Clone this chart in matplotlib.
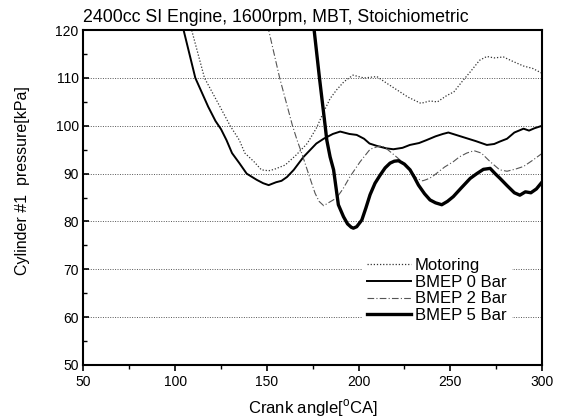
import matplotlib
matplotlib.use("Agg")
import matplotlib.pyplot as plt

plt.rcParams['font.family'] = ['Liberation Sans', 'DejaVu Sans']
plt.rcParams['mathtext.fontset'] = 'custom'
plt.rcParams['mathtext.rm'] = 'Liberation Sans'

# Crank angle [deg CA] / pressure [kPa]
motoring_x = [107, 109, 116, 125, 130, 135, 138, 143, 147, 151, 154, 160, 166, 172, 177,
              181, 184.5, 188, 192, 197, 203, 210, 215, 221, 227, 234, 239, 243, 248,
              252, 257, 261, 266, 270, 274, 279, 284, 290, 295, 300]
motoring_y = [121, 120, 110, 103.6, 100, 97, 94.3, 92.5, 90.8, 90.6, 90.9, 91.8, 93.9, 96.3, 99.5,
              102.9, 105.7, 107.5, 109.2, 110.6, 110.0, 110.3, 109.0, 107.5, 106.0, 104.7, 105.2, 105.0, 106.3,
              107.1, 109.5, 111.3, 113.7, 114.5, 114.2, 114.4, 113.5, 112.5, 112.0, 111.0]

bmep0_x = [104, 104.6, 111, 118, 122, 125, 128, 131, 135, 139, 144.5, 148, 151, 155, 158,
           161, 164.7, 170, 177, 181, 186, 190, 195, 199, 203, 206, 210, 215, 219, 224,
           228, 233, 237, 242, 246, 249, 254, 259, 264, 270, 274, 277, 281, 285, 290,
           293, 296, 300]
bmep0_y = [121, 120, 110, 104, 101, 99.3, 97, 94.3, 92.2, 90, 88.7, 88.0, 87.6, 88.2, 88.5,
           89.3, 90.8, 93.5, 96.3, 97.3, 98.3, 98.8, 98.3, 98.1, 97.3, 96.3, 95.8, 95.3, 95.1, 95.4,
           96.0, 96.4, 97.0, 97.8, 98.3, 98.6, 98.0, 97.4, 96.8, 96.0, 96.2, 96.7, 97.3, 98.6, 99.4,
           99.0, 99.5, 100.0]

bmep2_x = [150.5, 151, 157, 164, 166.5, 169, 172.7, 176.3, 178.5, 181, 184, 188, 191.5, 195.4,
           200.9, 206.3, 210, 212.7, 215, 218.2, 221, 224.5, 228, 231.8, 235, 237.3, 240, 242.7,
           247, 251.7, 255, 259, 263, 267, 271.8, 277, 281, 286, 290, 295, 300]
bmep2_y = [121, 120, 110, 100, 97, 94.3, 90, 85.9, 84.2, 83.3, 84.0, 84.9, 86.8, 89.4,
           92.5, 95.1, 95.6, 95.8, 95.3, 94.3, 93.4, 92.2, 90.6, 89.0, 88.5, 88.8, 89.3, 90.1,
           91.4, 92.5, 93.5, 94.3, 94.8, 94.3, 92.5, 90.8, 90.5, 91.0, 91.5, 92.8, 94.2]

bmep5_x = [175.5, 175.8, 178.7, 181.8, 182.7, 184.5, 186.4, 189, 191.8, 194, 196, 197.2, 199,
           201.8, 204, 206.3, 209, 211.8, 214.5, 217.2, 219.5, 221.8, 225, 228.1, 230.5, 232.7,
           236, 239, 242, 245.4, 248.5, 251.7, 256, 260.9, 264.5, 268.1, 271.8, 274.5, 277.2,
           281, 285, 288, 291, 294, 297, 300]
bmep5_y = [121, 120, 110, 100, 97, 93.5, 90.8, 83.5, 81.0, 79.5, 78.8, 78.6, 78.9,
           80.3, 82.8, 85.6, 88.0, 89.7, 91.2, 92.2, 92.6, 92.7, 92.0, 90.8, 89.2, 87.6,
           85.8, 84.5, 83.9, 83.5, 84.2, 85.2, 87.0, 89.0, 90.0, 90.9, 91.1, 90.0, 89.0,
           87.5, 86.0, 85.5, 86.2, 86.0, 86.8, 88.2]

title = "2400cc SI Engine, 1600rpm, MBT, Stoichiometric"

fig = plt.figure(figsize=(5.68, 4.19), dpi=100)
ax = fig.add_axes([0.147, 0.129, 0.807, 0.799])

ax.plot(motoring_x, motoring_y, color='#333333', lw=0.9, ls=(0, (1, 1.5)), label='Motoring')
ax.plot(bmep0_x, bmep0_y, color='black', lw=1.4, ls='-', label='BMEP 0 Bar')
ax.plot(bmep2_x, bmep2_y, color='#555555', lw=0.8, ls=(0, (6, 2, 1, 2)), label='BMEP 2 Bar')
ax.plot(bmep5_x, bmep5_y, color='black', lw=2.4, ls='-', label='BMEP 5 Bar')

ax.set_xlim(50, 300)
ax.set_ylim(50, 120)
ax.set_xticks([50, 100, 150, 200, 250, 300])
ax.set_xticks([75, 125, 175, 225, 275], minor=True)
ax.set_yticks([50, 60, 70, 80, 90, 100, 110, 120])
ax.set_yticks([55, 65, 75, 85, 95, 105, 115], minor=True)
ax.tick_params(axis='x', which='major', direction='out', length=4, width=1.2, labelsize=10)
ax.tick_params(axis='x', which='minor', direction='out', length=3, width=1)
ax.tick_params(axis='y', which='major', direction='in', length=4, width=1.2, labelsize=10)
ax.tick_params(axis='y', which='minor', direction='in', length=3, width=1)

for v in [60, 70, 80, 90, 100, 110]:
    ax.axhline(v, color='#555555', lw=0.7, ls=(0, (1, 1.5)), zorder=0)

for s in ax.spines.values():
    s.set_linewidth(1.5)

ax.set_title(title, fontsize=12.8, loc='left', x=-0.002, pad=6)
ax.set_xlabel(r'Crank angle[$^\mathregular{o}$CA]', fontsize=12)
ax.xaxis.set_label_coords(0.5, -0.097)
ax.set_ylabel('Cylinder #1  pressure[kPa]', fontsize=11.5)
ax.yaxis.set_label_coords(-0.117, 0.55)

leg = ax.legend(loc='lower right', bbox_to_anchor=(0.952, 0.085), fontsize=12,
                handlelength=2.6, handletextpad=0.25, labelspacing=0.1,
                frameon=True, framealpha=1, facecolor='white', edgecolor='none',
                borderpad=0.3)
leg.get_frame().set_linewidth(0)

fig.savefig('out.png', dpi=100)
